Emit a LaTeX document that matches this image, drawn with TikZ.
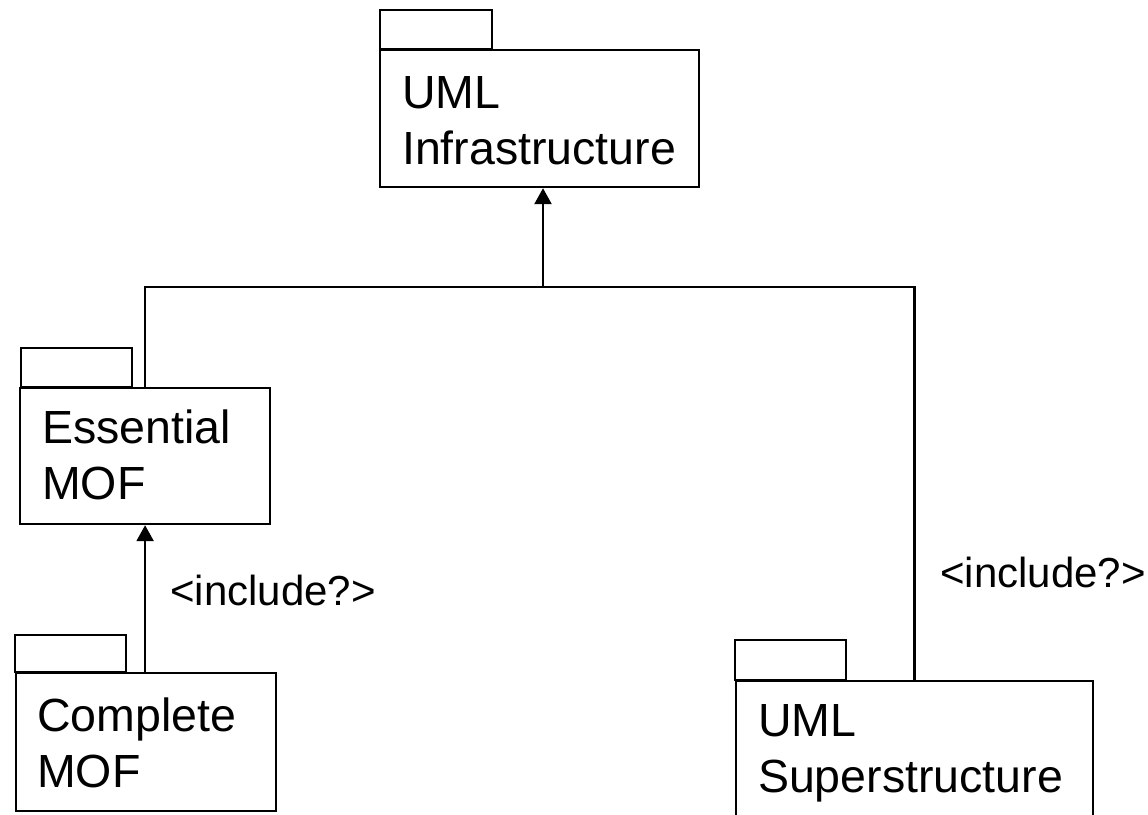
\documentclass[tikz,border=0pt]{standalone}
\usepackage{fontspec}
\setmainfont{Liberation Sans}
\usetikzlibrary{arrows.meta}
\hyphenpenalty=10000
\exhyphenpenalty=10000
\begin{document}
\begin{tikzpicture}[x=1pt,y=-1pt,
  pkg/.style={draw, line width=2.2pt, rectangle, anchor=north west, inner xsep=22pt, inner ysep=0pt, align=left, font=\fontsize{46.5}{56}\selectfont},
  tab/.style={draw, line width=2.2pt},
  conn/.style={line width=2.5pt},
  arr/.style={conn, -{Triangle[width=17pt,length=16pt]}},
  lbl/.style={anchor=base west, inner sep=0pt, font=\fontsize{42}{50}\selectfont}]
\useasboundingbox (0,0) rectangle (1148,814);
\clip (0,0) rectangle (1148,814);
\fill[white] (0,0) rectangle (1148,814);
% packages
\node[pkg, text width=275pt, text height=58pt, text depth=79pt] (inf) at (379,49) {UML\\Infrastructure};
\node[pkg, text width=206pt, text height=55pt, text depth=81pt] (ess) at (19,387) {Essential\\MOF};
\node[pkg, inner xsep=21pt, text width=218pt, text height=58pt, text depth=80pt] (com) at (15,672) {Complete\\MOF};
\node[pkg, text width=313pt, text height=55pt, text depth=100pt] (sup) at (735,680) {UML\\Superstructure};
% tabs
\draw[tab] (inf.north west) ++(1,0) rectangle ++(112,-39);
\draw[tab] (ess.north west) ++(2,0) rectangle ++(111,-39);
\draw[tab] (com.north west) rectangle ++(111,-37);
\draw[tab] (sup.north west) rectangle ++(111,-40);
% connectors
\coordinate (j) at (543,287);
\draw[conn] (ess.north) |- (j) -| (sup.north);
\draw[arr] (j) -- (j |- inf.south);
\draw[arr] (ess.south |- com.north) -- (ess.south);
% labels
\node[lbl] (inc1) at (170,605) {<include?>};
\node[lbl] (inc2) at (940,587) {<include?>};
\end{tikzpicture}
\end{document}
